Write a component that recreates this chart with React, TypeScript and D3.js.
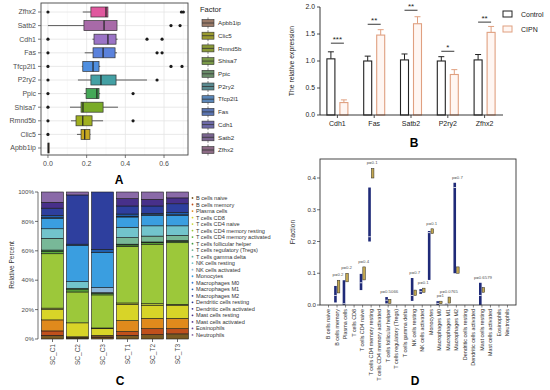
import React from "react";
import * as d3 from "d3";

const FONT = "'Liberation Sans', Arial, sans-serif";

// ---------- A: box plot of factor scores
const genes = ["Zfhx2", "Satb2", "Cdh1", "Fas", "Tfcp2l1", "P2ry2", "Ppic", "Shisa7", "Rmnd5b", "Clic5", "Apbb1ip"];
const boxQ1 = [0.222, 0.186, 0.238, 0.233, 0.18, 0.222, 0.197, 0.171, 0.145, 0.171, 0.0];
const boxMed = [0.3, 0.29, 0.31, 0.285, 0.233, 0.274, 0.253, 0.181, 0.18, 0.19, 0.002];
const boxQ3 = [0.31, 0.357, 0.352, 0.347, 0.264, 0.352, 0.264, 0.285, 0.228, 0.217, 0.006];
const whiskLo = [0.18, 0.0, 0.23, 0.19, 0.175, 0.155, 0.186, 0.114, 0.119, 0.15, 0.0];
const whiskHi = [0.31, 0.357, 0.36, 0.357, 0.27, 0.512, 0.27, 0.362, 0.285, 0.22, 0.006];
const outliers = [[0, 0.69, 0.7], [0.636, 0.683], [0, 0.512, 0.59], [0, 0.564, 0.59], [0, 0.636, 0.693], [0, 0.564], [0, 0.44], [0], [0, 0.44], [0], []];
const boxFill = ["#e0589e", "#a86aa8", "#9b74c6", "#5b82dc", "#4f8fe0", "#44a0a4", "#45a858", "#7aab28", "#a0b020", "#c8a820", "#c08040"];
const keyFill = ["#8c6b85", "#7a6590", "#6e6aa8", "#5a74b0", "#5a86b8", "#5a8a90", "#688a68", "#7a9a48", "#8a9a38", "#9a9a30", "#9a7a68"];
const xTicksA = [0, 0.2, 0.4, 0.6];

// ---------- B: qPCR bars
const bGenes = ["Cdh1", "Fas", "Satb2", "P2ry2", "Zfhx2"];
const ctrlMean = [1.04, 1.0, 1.02, 1.0, 1.02];
const ctrlErr = [0.13, 0.09, 0.11, 0.08, 0.1];
const cipnMean = [0.23, 1.48, 1.69, 0.75, 1.53];
const cipnErr = [0.05, 0.1, 0.13, 0.09, 0.11];
const sigLabel = ["***", "**", "**", "*", "**"];
const sigY = [1.33, 1.68, 1.94, 1.18, 1.72];
const yTicksB = [0, 0.5, 1.0, 1.5, 2.0];

// ---------- C: immune cell fractions
const cellTypes = [
  "B cells naive", "B cells memory", "Plasma cells", "T cells CD8", "T cells CD4 naive",
  "T cells CD4 memory resting", "T cells CD4 memory activated", "T cells follicular helper",
  "T cells regulatory (Tregs)", "T cells gamma delta", "NK cells resting", "NK cells activated",
  "Monocytes", "Macrophages M0", "Macrophages M1", "Macrophages M2", "Dendritic cells resting",
  "Dendritic cells activated", "Mast cells resting", "Mast cells activated", "Eosinophils", "Neutrophils",
];
const cellColors = [
  "#7a5a22", "#c0501c", "#e08a1c", "#d8d428", "#c8d838", "#9cc83a", "#5cae3a", "#3e9a40",
  "#78b898", "#60b0a0", "#72c4cc", "#8cb4d4", "#3a9ee0", "#3a7cd0", "#2060b0", "#2e3f9e",
  "#2a3590", "#3a3090", "#48308a", "#5a3a90", "#6a4a98", "#8a6aa8",
];
const samples = ["SC_C1", "SC_C2", "SC_C3", "SC_T1", "SC_T2", "SC_T3"];
const scC1 = [2.5, 3, 7.5, 7, 1, 37, 1.5, 1, 8, 0, 6.5, 0, 7, 0.5, 1.5, 5, 0, 0, 4, 0, 0, 7];
const scC2 = [0.7, 0.3, 0.5, 9.5, 0, 21, 1.5, 1, 0, 0, 4.5, 0, 24.5, 0, 1, 33.5, 0, 0, 0, 0, 0, 2];
const scC3 = [1, 0.5, 1, 4.5, 0.5, 22.5, 1, 0.5, 0, 0, 0, 3.5, 24, 0, 2, 39, 0, 0, 0, 0, 0, 0];
const scT1 = [2.5, 2.5, 7.5, 11, 1, 38.5, 1, 0.5, 4.5, 0, 7, 0, 7, 0.5, 1.5, 5.5, 0, 0, 5, 0, 0, 4.5];
const scT2 = [3, 4, 7, 9, 1, 40.5, 1, 0.5, 4, 0, 7, 0, 7, 0.5, 1, 5, 0, 0, 4.5, 0, 0, 5];
const scT3 = [3.5, 3.5, 7, 9, 0.5, 42, 1, 0.5, 3.5, 0, 6.5, 0, 7, 0.5, 1.5, 6, 0, 0, 4, 0, 0, 4];
const sampleValues = [scC1, scC2, scC3, scT1, scT2, scT3];
const yTicksC = [0, 20, 40, 60, 80, 100];

// ---------- D: fractions per cell type, control vs treated
const dShown = ["B cells memory", "Plasma cells", "T cells CD4 naive", "T cells CD4 memory resting", "T cells follicular helper", "NK cells resting", "NK cells activated", "Monocytes", "Macrophages M0", "Macrophages M1", "Macrophages M2", "Mast cells resting"];
const dCtrlLo = [0.008, 0.0, 0.047, 0.2, 0.005, 0.013, 0.035, 0.079, 0.0, 0.0, 0.1, 0.0];
const dCtrlHi = [0.06, 0.078, 0.098, 0.37, 0.025, 0.085, 0.05, 0.233, 0.012, 0.004, 0.385, 0.07];
const dCtrlMid = [0.03, 0.004, 0.07, 0.215, 0.015, 0.03, 0.042, 0.228, 0.005, 0.002, 0.37, 0.03];
const dTreatLo = [0.038, 0.073, 0.079, 0.4, 0.005, 0.03, 0.04, 0.225, 0.004, 0.006, 0.1, 0.04];
const dTreatHi = [0.078, 0.1, 0.12, 0.43, 0.018, 0.047, 0.053, 0.24, 0.012, 0.025, 0.12, 0.055];
const dP = ["p=0.2", "p=0.2", "p=0.4", "p=0.1", "p=0.5066", "p=0.7", "p=0.1", "p=0.1", "p=1", "p=0.0765", "p=0.7", "p=0.6579"];
const yTicksD = [0, 0.1, 0.2, 0.3, 0.4];

function PanelA() {
  const left = 41, right = 188, top = 3, bottom = 155
  const x = d3.scaleLinear().domain([-0.036, 0.724]).range([left, right])
  const y = d3.scalePoint<string>().domain(genes).range([12, 148])
  const bh = 10
  return (
    <g>
      {[0.1, 0.3, 0.5, 0.7].map(v => <line key={"mn" + v} x1={x(v)} x2={x(v)} y1={top} y2={bottom} stroke="#f2f2f2" strokeWidth={0.5} />)}
      {xTicksA.map(v => <line key={"mj" + v} x1={x(v)} x2={x(v)} y1={top} y2={bottom} stroke="#e4e4e4" strokeWidth={0.8} />)}
      {genes.map(g => <line key={"h" + g} x1={left} x2={right} y1={y(g)} y2={y(g)} stroke="#e4e4e4" strokeWidth={0.8} />)}
      {genes.map((g, i) => {
        const cy = y(g) as number
        return (
          <g key={g}>
            <line x1={x(whiskLo[i])} x2={x(boxQ1[i])} y1={cy} y2={cy} stroke="#333" strokeWidth={0.8} />
            <line x1={x(boxQ3[i])} x2={x(whiskHi[i])} y1={cy} y2={cy} stroke="#333" strokeWidth={0.8} />
            <rect x={x(boxQ1[i])} y={cy - bh / 2} width={Math.max(1.2, x(boxQ3[i]) - x(boxQ1[i]))} height={bh}
              fill={boxFill[i]} stroke="#333" strokeWidth={0.7} />
            <line x1={x(boxMed[i])} x2={x(boxMed[i])} y1={cy - bh / 2} y2={cy + bh / 2} stroke="#222" strokeWidth={1.2} />
            {outliers[i].map((v, j) => <circle key={j} cx={x(v)} cy={cy} r={1.6} fill="#1a1a1a" />)}
          </g>
        )
      })}
      <rect x={left} y={top} width={right - left} height={bottom - top} fill="none" stroke="#444" strokeWidth={0.9} />
      {genes.map(g => (
        <g key={"yl" + g}>
          <line x1={left - 3} x2={left} y1={y(g)} y2={y(g)} stroke="#444" strokeWidth={0.7} />
          <text x={left - 5} y={(y(g) as number) + 2.4} fontSize={7} fill="#4d4d4d" textAnchor="end">{g}</text>
        </g>
      ))}
      {xTicksA.map(v => (
        <g key={"xl" + v}>
          <line x1={x(v)} x2={x(v)} y1={bottom} y2={bottom + 3} stroke="#444" strokeWidth={0.7} />
          <text x={x(v)} y={bottom + 10.5} fontSize={7} fill="#4d4d4d" textAnchor="middle">{d3.format(".1f")(v)}</text>
        </g>
      ))}
      <text x={200} y={12} fontSize={7.5} fill="#222">Factor</text>
      {genes.slice().reverse().map((g, i) => {
        const k = genes.length - 1 - i
        const cy = 23 + i * 12.7
        return (
          <g key={"k" + g}>
            <line x1={208} x2={208} y1={cy - 5.5} y2={cy + 5.5} stroke="#333" strokeWidth={0.6} />
            <rect x={202} y={cy - 3.5} width={12} height={7} fill={keyFill[k]} stroke="#333" strokeWidth={0.6} />
            <line x1={202} x2={214} y1={cy} y2={cy} stroke="#333" strokeWidth={0.8} />
            <text x={218} y={cy + 2.2} fontSize={6.2} fill="#333">{g}</text>
          </g>
        )
      })}
      <text x={119} y={184} fontSize={12} fontWeight="bold" textAnchor="middle">A</text>
    </g>
  )
}

function PanelB() {
  const x = d3.scaleBand<string>().domain(bGenes).range([319, 503])
  const y = d3.scaleLinear().domain([0, 2]).range([115, 7])
  const bw = 8
  return (
    <g>
      {bGenes.map((g, i) => {
        const c = (x(g) as number) + x.bandwidth() / 2
        const cx0 = c - 6.5, cx1 = c + 6.5
        return (
          <g key={g}>
            <line x1={cx0} x2={cx0} y1={y(ctrlMean[i])} y2={y(ctrlMean[i] + ctrlErr[i])} stroke="#222" strokeWidth={1} />
            <line x1={cx0 - 3} x2={cx0 + 3} y1={y(ctrlMean[i] + ctrlErr[i])} y2={y(ctrlMean[i] + ctrlErr[i])} stroke="#222" strokeWidth={1} />
            <rect x={cx0 - bw / 2} y={y(ctrlMean[i])} width={bw} height={y(0) - y(ctrlMean[i])} fill="#fff" stroke="#222" strokeWidth={1.1} />
            <line x1={cx1} x2={cx1} y1={y(cipnMean[i])} y2={y(cipnMean[i] + cipnErr[i])} stroke="#e0a080" strokeWidth={1} />
            <line x1={cx1 - 3} x2={cx1 + 3} y1={y(cipnMean[i] + cipnErr[i])} y2={y(cipnMean[i] + cipnErr[i])} stroke="#e0a080" strokeWidth={1} />
            <rect x={cx1 - bw / 2} y={y(cipnMean[i])} width={bw} height={y(0) - y(cipnMean[i])} fill="#fff6f2" stroke="#e0a080" strokeWidth={1.1} />
            <line x1={cx0} x2={cx1} y1={y(sigY[i])} y2={y(sigY[i])} stroke="#222" strokeWidth={0.9} />
            <text x={c} y={y(sigY[i]) - 1.5} fontSize={8} textAnchor="middle" fill="#222">{sigLabel[i]}</text>
            <line x1={c} x2={c} y1={115} y2={118} stroke="#222" strokeWidth={0.8} />
            <text x={c} y={126} fontSize={7} textAnchor="middle" fill="#222">{g}</text>
          </g>
        )
      })}
      <line x1={320} x2={320} y1={y(2)} y2={y(0)} stroke="#222" strokeWidth={0.9} />
      <line x1={320} x2={503} y1={115} y2={115} stroke="#222" strokeWidth={0.9} />
      {yTicksB.map(v => (
        <g key={v}>
          <line x1={317} x2={320} y1={y(v)} y2={y(v)} stroke="#222" strokeWidth={0.8} />
          <text x={315} y={y(v) + 2.4} fontSize={6.8} textAnchor="end" fill="#222">{d3.format(".1f")(v)}</text>
        </g>
      ))}
      <text transform={`translate(294,${y(1)}) rotate(-90)`} fontSize={6.8} textAnchor="middle" fill="#222">The relative expression</text>
      <rect x={503} y={11} width={9} height={6} fill="#fff" stroke="#222" strokeWidth={1} />
      <text x={521} y={16.5} fontSize={7} fill="#222">Control</text>
      <rect x={503} y={26} width={9} height={6} fill="#fff6f2" stroke="#e0a080" strokeWidth={1} />
      <text x={521} y={31.5} fontSize={7} fill="#222">CIPN</text>
      <text x={414} y={147} fontSize={12} fontWeight="bold" textAnchor="middle">B</text>
    </g>
  )
}

function PanelC() {
  const table = samples.map((s, i) => {
    const row: any = { sample: s }
    cellTypes.forEach((c, j) => { row[c] = sampleValues[i][j] })
    return row
  })
  const series = d3.stack().keys(cellTypes)(table)
  const x = d3.scaleBand<string>().domain(samples).range([40, 190]).paddingInner(0.12).paddingOuter(0.06)
  const y = d3.scaleLinear().domain([0, 100]).range([339, 192])
  return (
    <g>
      {series.map((s, k) => (
        <g key={s.key} fill={cellColors[k]}>
          {s.map((d, i) => d[1] - d[0] > 0 ? (
            <rect key={i} x={x(samples[i])} y={y(d[1])} width={x.bandwidth()} height={y(d[0]) - y(d[1])}
              stroke="#1a1a1a" strokeWidth={0.6} />
          ) : null)}
        </g>
      ))}
      <line x1={38} x2={38} y1={192} y2={339} stroke="#333" strokeWidth={0.7} />
      {yTicksC.map(v => (
        <g key={v}>
          <line x1={35} x2={38} y1={y(v)} y2={y(v)} stroke="#333" strokeWidth={0.7} />
          <text x={34} y={y(v) + 2.2} fontSize={6.2} textAnchor="end" fill="#4d4d4d">{v + "%"}</text>
        </g>
      ))}
      {samples.map(s => {
        const c = (x(s) as number) + x.bandwidth() / 2
        return (
          <g key={s}>
            <line x1={c} x2={c} y1={339} y2={342} stroke="#333" strokeWidth={0.7} />
            <text transform={`translate(${c + 2.3},344) rotate(-90)`} fontSize={6.5} textAnchor="end" fill="#4d4d4d">{s}</text>
          </g>
        )
      })}
      <text transform="translate(14,265) rotate(-90)" fontSize={6.5} textAnchor="middle" fill="#333">Relative Percent</text>
      {cellTypes.map((c, k) => (
        <g key={c}>
          <circle cx={192.5} cy={198 + k * 6.52} r={0.9} fill={cellColors[k]} />
          <text x={196} y={198 + k * 6.52 + 2} fontSize={5.6} fill="#333">{c}</text>
        </g>
      ))}
      <text x={120} y={385} fontSize={12} fontWeight="bold" textAnchor="middle">C</text>
    </g>
  )
}

function PanelD() {
  const left = 320, right = 516, top = 159, bottom = 305
  const x = d3.scaleBand<string>().domain(cellTypes).range([left, right]).paddingOuter(0.5)
  const y = d3.scaleLinear().domain([0, 0.46]).range([bottom, bottom - 0.46 * 317.5])
  const cx = (c: string) => (x(c) as number) + x.bandwidth() / 2
  return (
    <g>
      {dShown.map((c, i) => {
        const xc = cx(c)
        const hi = Math.max(dCtrlHi[i], dTreatHi[i])
        return (
          <g key={c}>
            <rect x={xc - 2.9} y={y(dCtrlHi[i])} width={2.6} height={Math.max(1, y(dCtrlLo[i]) - y(dCtrlHi[i]))} fill="#1f2a78" />
            <line x1={xc - 2.9} x2={xc - 0.3} y1={y(dCtrlMid[i])} y2={y(dCtrlMid[i])} stroke="#fff" strokeWidth={0.8} />
            <rect x={xc + 0.2} y={y(dTreatHi[i])} width={2.6} height={Math.max(1, y(dTreatLo[i]) - y(dTreatHi[i]))} fill="#c4a850" stroke="#2a2a2a" strokeWidth={0.5} />
            <text x={xc + 1} y={y(hi) - 4} fontSize={4.3} textAnchor="middle" fill="#555">{dP[i]}</text>
          </g>
        )
      })}
      <rect x={left} y={top} width={right - left} height={bottom - top} fill="none" stroke="#333" strokeWidth={0.9} />
      {yTicksD.map(v => (
        <g key={v}>
          <line x1={left - 3} x2={left} y1={y(v)} y2={y(v)} stroke="#333" strokeWidth={0.7} />
          <text x={left - 4} y={y(v) + 2.2} fontSize={6.2} textAnchor="end" fill="#333">{d3.format(".1f")(v)}</text>
        </g>
      ))}
      {cellTypes.map(c => (
        <g key={c}>
          <line x1={cx(c)} x2={cx(c)} y1={bottom} y2={bottom + 2.5} stroke="#333" strokeWidth={0.6} />
          <text transform={`translate(${cx(c) + 1.8},${bottom + 4}) rotate(-90)`} fontSize={5.4} textAnchor="end" fill="#333">{c}</text>
        </g>
      ))}
      <text transform="translate(295,232) rotate(-90)" fontSize={6.8} textAnchor="middle" fill="#333">Fraction</text>
      <text x={415} y={385} fontSize={12} fontWeight="bold" textAnchor="middle">D</text>
    </g>
  )
}

export default function App() {
  return (
    <svg width={550} height={390} fontFamily={FONT} style={{ position: "absolute", left: 0, top: 0, background: "#fff" }}>
      <PanelA />
      <PanelB />
      <PanelC />
      <PanelD />
    </svg>
  )
}
